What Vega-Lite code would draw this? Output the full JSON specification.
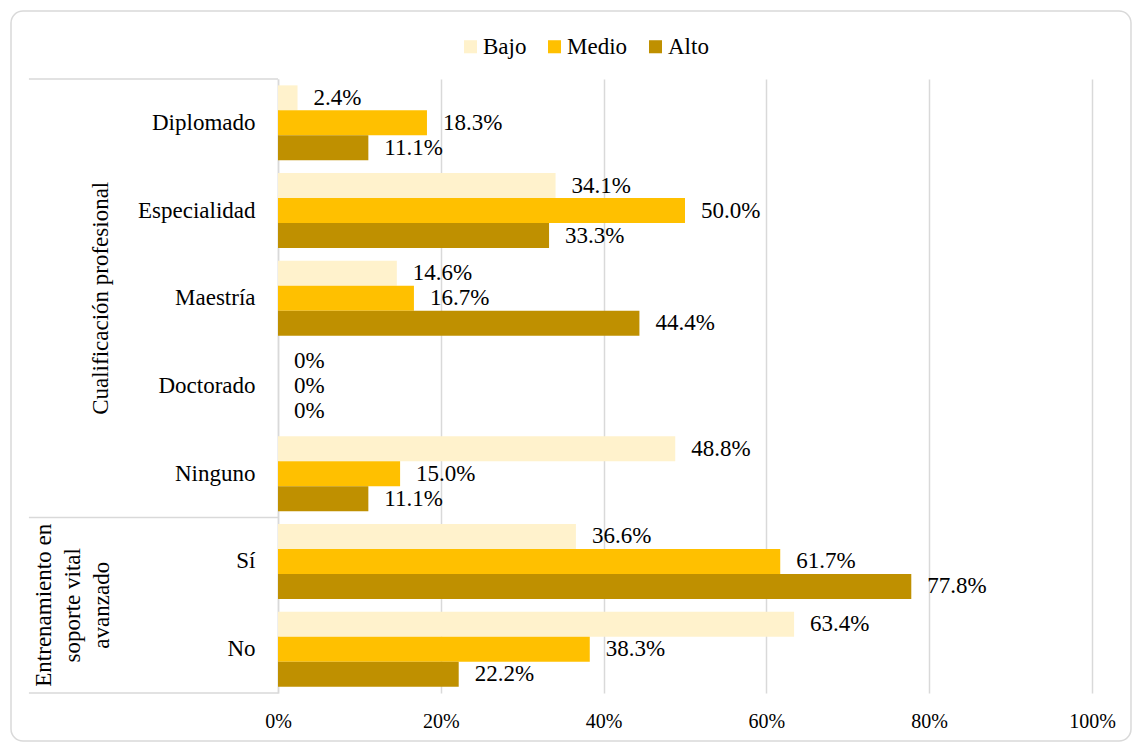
{
  "$schema": "https://vega.github.io/schema/vega-lite/v6.json",
  "width": 814,
  "height": 614,
  "padding": {"left": 10, "top": 10, "right": 9, "bottom": 5},
  "background": "white",
  "config": {
    "view": {"stroke": null},
    "font": "Liberation Serif",
    "axis": {"labelFont": "Liberation Serif", "labelColor": "#000000"},
    "legend": {"labelFont": "Liberation Serif", "labelColor": "#000000"},
    "text": {"font": "Liberation Serif"}
  },
  "datasets": {
    "bars": [
      {"cat": "Diplomado", "lvl": "Bajo", "v": 0.024},
      {"cat": "Diplomado", "lvl": "Medio", "v": 0.183},
      {"cat": "Diplomado", "lvl": "Alto", "v": 0.111},
      {"cat": "Especialidad", "lvl": "Bajo", "v": 0.341},
      {"cat": "Especialidad", "lvl": "Medio", "v": 0.5},
      {"cat": "Especialidad", "lvl": "Alto", "v": 0.333},
      {"cat": "Maestría", "lvl": "Bajo", "v": 0.146},
      {"cat": "Maestría", "lvl": "Medio", "v": 0.167},
      {"cat": "Maestría", "lvl": "Alto", "v": 0.444},
      {"cat": "Doctorado", "lvl": "Bajo", "v": 0},
      {"cat": "Doctorado", "lvl": "Medio", "v": 0},
      {"cat": "Doctorado", "lvl": "Alto", "v": 0},
      {"cat": "Ninguno", "lvl": "Bajo", "v": 0.488},
      {"cat": "Ninguno", "lvl": "Medio", "v": 0.15},
      {"cat": "Ninguno", "lvl": "Alto", "v": 0.111},
      {"cat": "Sí", "lvl": "Bajo", "v": 0.366},
      {"cat": "Sí", "lvl": "Medio", "v": 0.617},
      {"cat": "Sí", "lvl": "Alto", "v": 0.778},
      {"cat": "No", "lvl": "Bajo", "v": 0.634},
      {"cat": "No", "lvl": "Medio", "v": 0.383},
      {"cat": "No", "lvl": "Alto", "v": 0.222}
    ]
  },
  "resolve": {"scale": {"y": "independent"}},
  "layer": [
    {
      "data": {"values": [{"f": 1}]},
      "mark": {"type": "rect", "fill": null, "stroke": "#d9d9d9", "strokeWidth": 1.5, "cornerRadius": 12},
      "encoding": {
        "x": {"datum": -0.328, "type": "quantitative", "scale": {"domain": [0, 1], "nice": false}},
        "x2": {"datum": 1.0479},
        "y": {"datum": -0.775, "type": "quantitative", "scale": {"domain": [0, 7], "nice": false, "reverse": true}, "axis": null},
        "y2": {"datum": 7.547}
      }
    },
    {
      "data": {"name": "bars"},
      "transform": [
        {"calculate": "datum.v === 0 ? '0%' : format(datum.v, '.1%')", "as": "label"}
      ],
      "encoding": {
        "y": {
          "field": "cat", "type": "nominal",
          "sort": ["Diplomado", "Especialidad", "Maestría", "Doctorado", "Ninguno", "Sí", "No"],
          "scale": {"paddingInner": 0.145, "paddingOuter": 0.0725},
          "axis": {"title": null, "labelFontSize": 23, "labelPadding": 23, "ticks": false, "domainColor": "#d9d9d9", "domainWidth": 1.5}
        },
        "yOffset": {
          "field": "lvl", "type": "nominal", "sort": ["Bajo", "Medio", "Alto"],
          "scale": {"paddingInner": 0, "paddingOuter": 0}
        },
        "x": {
          "field": "v", "type": "quantitative",
          "scale": {"domain": [0, 1], "nice": false},
          "axis": {"title": null, "format": ".0%", "values": [0, 0.2, 0.4, 0.6, 0.8, 1], "grid": true, "gridColor": "#d9d9d9", "gridWidth": 1.5, "domain": false, "ticks": false, "labelFontSize": 20, "labelPadding": 18, "labelFlush": false}
        }
      },
      "layer": [
        {
          "mark": {"type": "bar"},
          "encoding": {
            "color": {
              "field": "lvl", "type": "nominal",
              "scale": {"domain": ["Bajo", "Medio", "Alto"], "range": ["#FFF2CC", "#FFC000", "#BF9000"]},
              "legend": {"title": null, "orient": "none", "direction": "horizontal", "legendX": 181, "legendY": -44, "symbolType": "square", "symbolSize": 170, "symbolStrokeWidth": 0, "labelFontSize": 23, "columnPadding": 16, "labelOffset": 1}
            }
          }
        },
        {
          "mark": {"type": "text", "align": "left", "baseline": "middle", "dx": 16, "fontSize": 23, "color": "#000000"},
          "encoding": {"text": {"field": "label"}}
        }
      ]
    },
    {
      "data": {"values": [{"b": 0}, {"b": 5}, {"b": 7}]},
      "mark": {"type": "rule", "color": "#d9d9d9", "strokeWidth": 1.5},
      "encoding": {
        "x": {"datum": -0.306, "type": "quantitative"},
        "x2": {"datum": 0},
        "y": {"field": "b", "type": "quantitative", "scale": {"domain": [0, 7], "nice": false, "reverse": true}, "axis": null}
      }
    },
    {
      "data": {"values": [{"g": "Cualificación profesional"}]},
      "mark": {"type": "text", "angle": 270, "align": "center", "baseline": "middle", "fontSize": 23, "color": "#000000"},
      "encoding": {
        "x": {"datum": -0.2174, "type": "quantitative"},
        "y": {"datum": 2.5, "type": "quantitative", "scale": {"domain": [0, 7], "nice": false, "reverse": true}, "axis": null},
        "text": {"field": "g"}
      }
    },
    {
      "data": {"values": [{"g": "Entrenamiento en|soporte vital|avanzado"}]},
      "mark": {"type": "text", "angle": 270, "align": "center", "baseline": "middle", "fontSize": 23, "lineHeight": 29, "lineBreak": "|", "color": "#000000"},
      "encoding": {
        "x": {"datum": -0.2875, "type": "quantitative"},
        "y": {"datum": 6, "type": "quantitative", "scale": {"domain": [0, 7], "nice": false, "reverse": true}, "axis": null},
        "text": {"field": "g"}
      }
    }
  ]
}
